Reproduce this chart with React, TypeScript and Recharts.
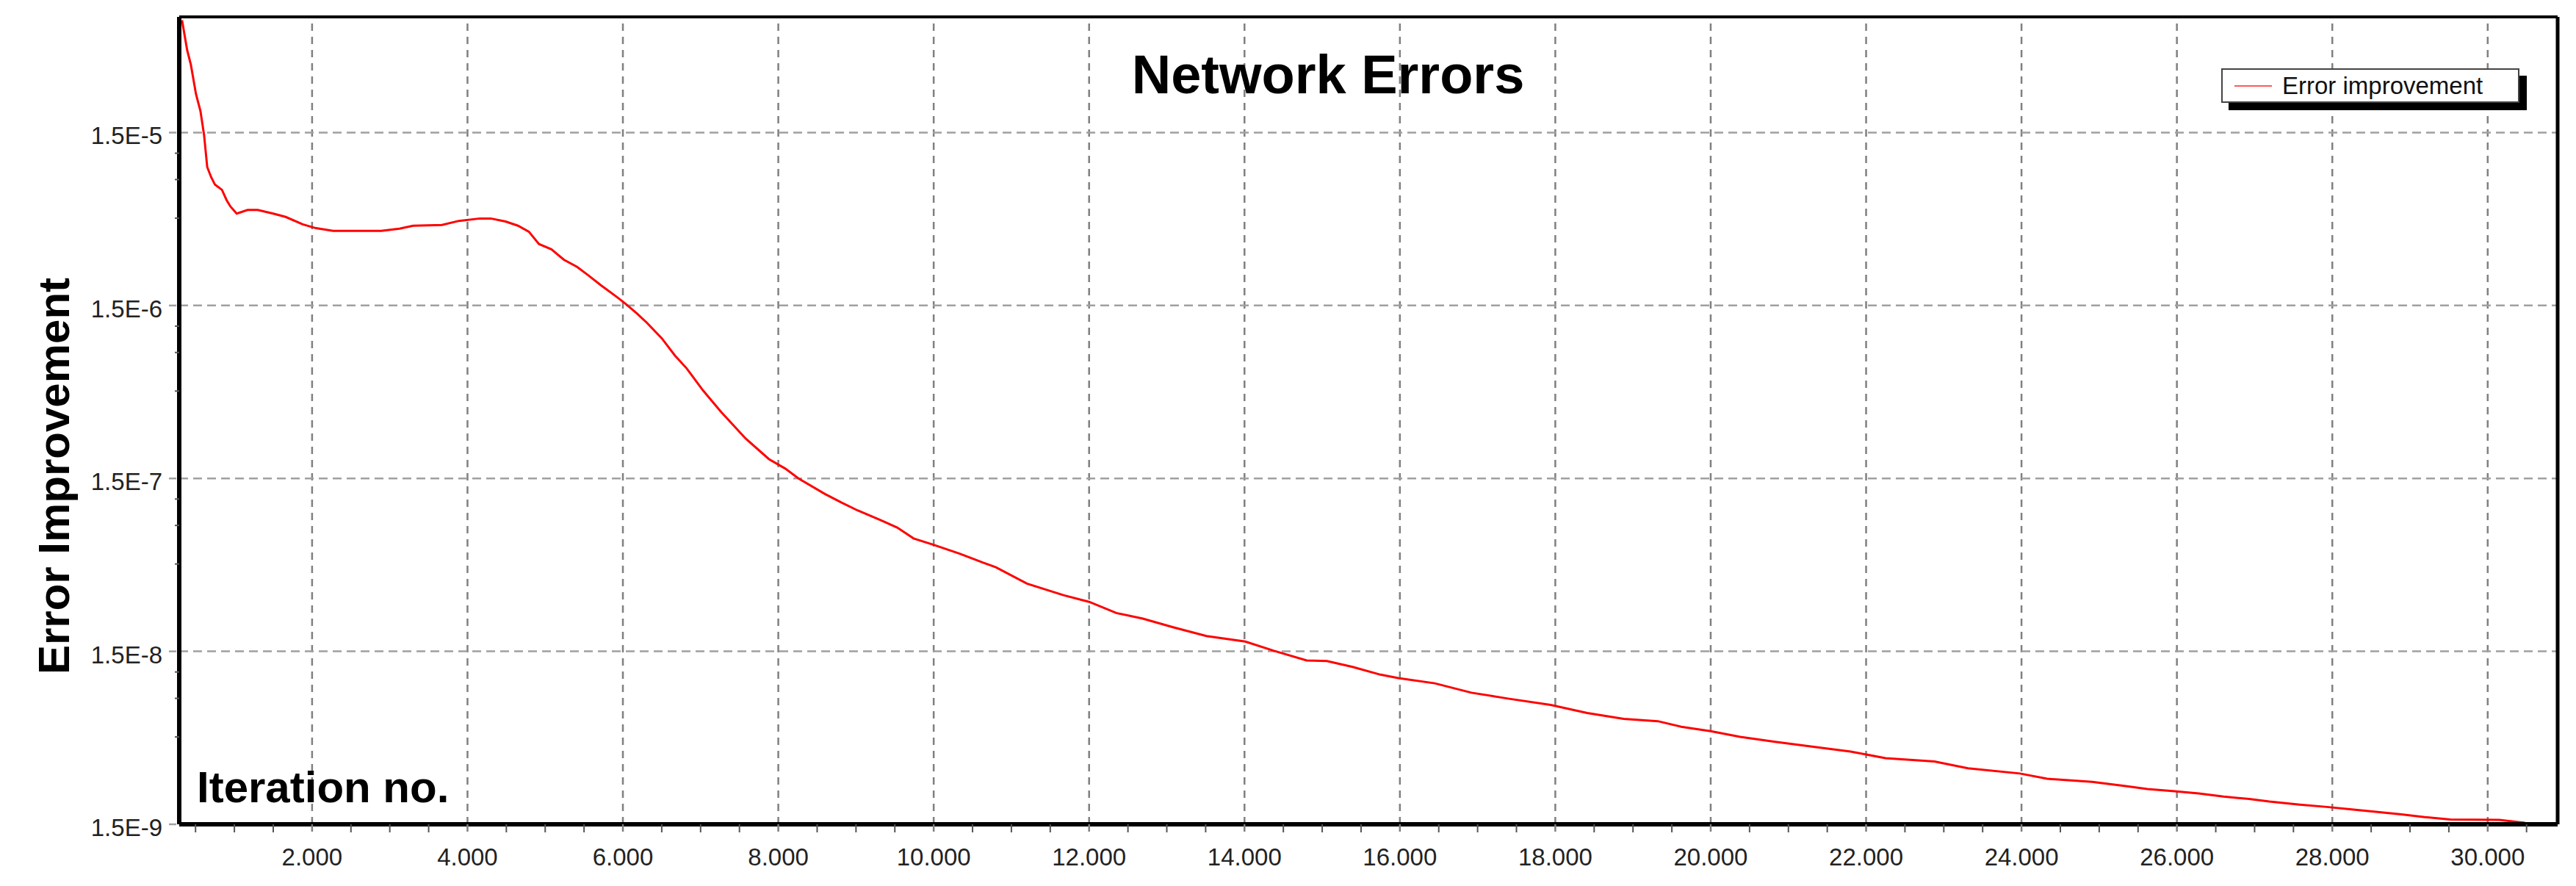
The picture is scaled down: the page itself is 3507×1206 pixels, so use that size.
import React from 'react';
import { LineChart, Line, XAxis, YAxis, Legend, ReferenceLine } from 'recharts';

const W = 3507;
const H = 1206;
const FONT = '"Liberation Sans", Arial, sans-serif';

// iteration number of each sample
const iterations = [
  326, 392, 440, 506, 563, 610, 650, 700, 750, 840, 900, 950, 1030, 1170, 1300, 1500, 1660, 1880,
  2050, 2270, 2890, 3125, 3300, 3670, 3890, 4160, 4300, 4490, 4650, 4790, 4920, 5080, 5240, 5410,
  5550, 5720, 5930, 6030, 6180, 6310, 6500, 6670, 6820, 7030, 7260, 7580, 7880, 8090, 8260, 8600,
  8810, 9020, 9320, 9530, 9740, 10000, 10340, 10630, 10800, 11200, 11670, 12000, 12350, 12690,
  13080, 13510, 14010, 14380, 14800, 15060, 15390, 15750, 15980, 16450, 16920, 17390, 17940, 18410,
  18880, 19320, 19620, 20000, 20380, 20830, 21340, 21800, 22250, 22880, 23310, 23980, 24330, 24910,
  25360, 25620, 25970, 26280, 26600, 26930, 27190, 27580, 27930, 28250, 28560, 28890, 29190, 29520,
  30150, 30480,
];

// error improvement
const errorImprovement = [
  6.7e-5, 4.5e-5, 3.7e-5, 2.5e-5, 2.0e-5, 1.45e-5, 9.5e-6, 8.3e-6, 7.5e-6, 7.0e-6, 6.1e-6, 5.6e-6,
  5.1e-6, 5.35e-6, 5.35e-6, 5.1e-6, 4.88e-6, 4.42e-6, 4.2e-6, 4.05e-6, 4.05e-6, 4.17e-6, 4.34e-6,
  4.38e-6, 4.63e-6, 4.78e-6, 4.78e-6, 4.59e-6, 4.34e-6, 4.01e-6, 3.4e-6, 3.17e-6, 2.76e-6, 2.51e-6,
  2.25e-6, 1.96e-6, 1.67e-6, 1.54e-6, 1.35e-6, 1.19e-6, 9.7e-7, 7.7e-7, 6.5e-7, 4.85e-7, 3.65e-7,
  2.55e-7, 1.94e-7, 1.71e-7, 1.5e-7, 1.22e-7, 1.09e-7, 9.8e-8, 8.6e-8, 7.8e-8, 6.75e-8, 6.2e-8,
  5.5e-8, 4.9e-8, 4.6e-8, 3.7e-8, 3.17e-8, 2.9e-8, 2.5e-8, 2.32e-8, 2.07e-8, 1.84e-8, 1.71e-8,
  1.51e-8, 1.33e-8, 1.32e-8, 1.22e-8, 1.1e-8, 1.05e-8, 9.8e-9, 8.65e-9, 8.0e-9, 7.35e-9, 6.6e-9,
  6.1e-9, 5.92e-9, 5.5e-9, 5.18e-9, 4.8e-9, 4.5e-9, 4.2e-9, 3.95e-9, 3.62e-9, 3.46e-9, 3.16e-9,
  2.95e-9, 2.75e-9, 2.64e-9, 2.49e-9, 2.4e-9, 2.33e-9, 2.26e-9, 2.17e-9, 2.1e-9, 2.03e-9, 1.95e-9,
  1.89e-9, 1.83e-9, 1.77e-9, 1.71e-9, 1.65e-9, 1.6e-9, 1.59e-9, 1.53e-9,
];

const xTicks = [2000, 4000, 6000, 8000, 10000, 12000, 14000, 16000, 18000, 20000, 22000, 24000, 26000, 28000, 30000];
const xTickLabels = ['2.000', '4.000', '6.000', '8.000', '10.000', '12.000', '14.000', '16.000', '18.000', '20.000', '22.000', '24.000', '26.000', '28.000', '30.000'];
const yTicks = [1.5e-9, 1.5e-8, 1.5e-7, 1.5e-6, 1.5e-5];
const yTickLabels = ['1.5E-9', '1.5E-8', '1.5E-7', '1.5E-6', '1.5E-5'];

const X_DOMAIN = [290, 30900];
const Y_DOMAIN = [1.5e-9, 7e-5];

const data = iterations.map((iter, i) => ({ iter, err: errorImprovement[i] }));

// small unlabelled ticks (every 500 on x, three per decade on y)
const xMinor: number[] = [];
for (let v = 500; v <= 30500; v += 500) if (!xTicks.includes(v)) xMinor.push(v);
const yMinor = yTicks.slice(1).flatMap((t) => [0.76, 0.535, 0.32].map((f) => t * f));

const XTick = ({ x, y, payload }: any) => {
  const i = xTicks.indexOf(payload.value);
  if (i < 0) return <line x1={x} x2={x} y1={y} y2={y + 11} stroke="#555" strokeWidth={2} />;
  return (
    <g>
      <line x1={x} x2={x} y1={y} y2={y + 17} stroke="#808080" strokeWidth={2.5} strokeDasharray="10 8" />
      <text x={x} y={y + 56} textAnchor="middle" fontSize={33} fontFamily={FONT} fill="#222">
        {xTickLabels[i]}
      </text>
    </g>
  );
};

const YTick = ({ x, y, payload }: any) => {
  const i = yTicks.indexOf(payload.value);
  if (i < 0) return <line x1={x - 6} x2={x} y1={y} y2={y} stroke="#555" strokeWidth={2} />;
  return (
    <g>
      <line x1={x - 14} x2={x} y1={y} y2={y} stroke="#a0a0a0" strokeWidth={2.5} strokeDasharray="10 6" />
      <text x={x - 23} y={y + 16} textAnchor="end" fontSize={33} fontFamily={FONT} fill="#222">
        {yTickLabels[i]}
      </text>
    </g>
  );
};

const LegendBox = () => (
  <div
    style={{
      width: 406, height: 47, boxSizing: 'border-box', background: '#fff',
      border: '2px solid #444', boxShadow: '10px 10px 0 #000',
      display: 'flex', alignItems: 'center', paddingLeft: 16, fontFamily: FONT,
    }}
  >
    <div style={{ width: 51, height: 2, background: '#ff5a5a', marginRight: 14 }} />
    <span style={{ fontSize: 33, color: '#111', lineHeight: 1 }}>Error improvement</span>
  </div>
);

export default function App() {
  return (
    <div style={{ position: 'absolute', left: 0, top: 0, width: W, height: H, background: '#fff' }}>
      <LineChart width={W} height={H} data={data} margin={{ top: 23, right: 25, bottom: 0, left: 0 }}>
        <XAxis
          dataKey="iter"
          type="number"
          domain={X_DOMAIN}
          allowDataOverflow
          ticks={[...xTicks, ...xMinor].sort((a, b) => a - b)}
          interval={0}
          height={84}
          tickSize={0}
          tickMargin={0}
          tickLine={false}
          axisLine={{ stroke: '#000', strokeWidth: 6 }}
          tick={<XTick />}
        />
        <YAxis
          type="number"
          scale="log"
          domain={Y_DOMAIN}
          allowDataOverflow
          ticks={[...yTicks, ...yMinor].sort((a, b) => a - b)}
          interval={0}
          width={244}
          tickSize={0}
          tickMargin={0}
          tickLine={false}
          axisLine={{ stroke: '#000', strokeWidth: 6 }}
          tick={<YTick />}
        />
        {xTicks.map((v) => (
          <ReferenceLine key={'gx' + v} x={v} stroke="#808080" strokeWidth={2.5} strokeDasharray="10 8" />
        ))}
        {yTicks.slice(1).map((v) => (
          <ReferenceLine key={'gy' + v} y={v} stroke="#a0a0a0" strokeWidth={2.5} strokeDasharray="12 7" />
        ))}
        <ReferenceLine x={X_DOMAIN[1]} stroke="#000" strokeWidth={5} ifOverflow="visible" />
        <ReferenceLine y={Y_DOMAIN[1]} stroke="#000" strokeWidth={4} ifOverflow="visible" />
        <Legend
          layout="horizontal"
          verticalAlign="middle"
          align="center"
          wrapperStyle={{ left: 3024, top: 93, width: 406, height: 47 }}
          content={() => <LegendBox />}
        />
        <Line
          type="linear"
          dataKey="err"
          name="Error improvement"
          stroke="#ff0000"
          strokeWidth={3}
          dot={false}
          isAnimationActive={false}
        />
      </LineChart>
      <svg
        width={W}
        height={H}
        style={{ position: 'absolute', left: 0, top: 0, pointerEvents: 'none' }}
        fontFamily={FONT}
        fontWeight="bold"
      >
        <text x={1808} y={127} textAnchor="middle" fontSize={74} fill="#000">Network Errors</text>
        <text x={94} y={648} textAnchor="middle" fontSize={60} fill="#000" transform="rotate(-90 94 648)">
          Error Improvement
        </text>
        <text x={268} y={1092} fontSize={60} fill="#000">Iteration no.</text>
      </svg>
    </div>
  );
}
